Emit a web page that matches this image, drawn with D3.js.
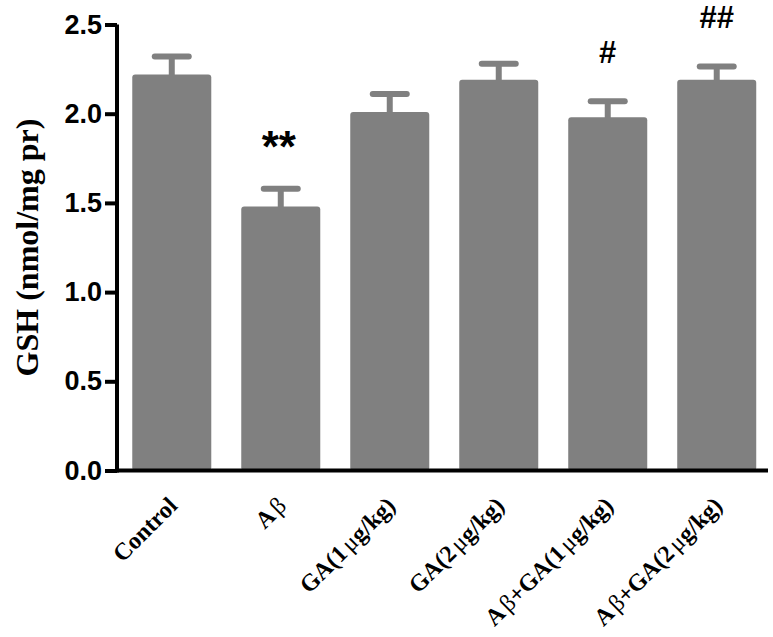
<!DOCTYPE html>
<html><head><meta charset="utf-8">
<script src="https://cdn.jsdelivr.net/npm/d3@7"></script>
<style>body{margin:0;background:#fff}</style>
</head><body>
<svg id="chart" width="773" height="637"></svg>
<script>
const categories = ["Control", "Aβ", "GA(1μg/kg)", "GA(2μg/kg)", "Aβ+GA(1μg/kg)", "Aβ+GA(2μg/kg)"];
const means = [2.22, 1.48, 2.01, 2.19, 1.98, 2.19];
const sems = [0.10, 0.10, 0.10, 0.09, 0.09, 0.075];
const marks = ["", "**", "", "", "#", "##"];
const yTicks = [0.0, 0.5, 1.0, 1.5, 2.0, 2.5];

const svg = d3.select("#chart");
const grey = "#808080";
const y = d3.scaleLinear().domain([0, 2.5]).range([470.5, 24.5]);
const x = d3.scaleBand().domain(categories).range([117, 771.5]).paddingInner(0.275).paddingOuter(0.14);

// bars
svg.append("g").selectAll("rect").data(categories).join("rect")
  .attr("x", d => x(d)).attr("width", x.bandwidth())
  .attr("y", (d, i) => y(means[i])).attr("height", (d, i) => y(0) - y(means[i]))
  .attr("rx", 3).attr("fill", grey);

// error bars
const eb = svg.append("g");
categories.forEach((c, i) => {
  const cx = x(c) + x.bandwidth() / 2;
  eb.append("line").attr("x1", cx).attr("x2", cx).attr("y1", y(means[i]) + 2).attr("y2", y(means[i] + sems[i]))
    .attr("stroke", grey).attr("stroke-width", 6);
  eb.append("line").attr("x1", cx - 17).attr("x2", cx + 17).attr("y1", y(means[i] + sems[i])).attr("y2", y(means[i] + sems[i]))
    .attr("stroke", grey).attr("stroke-width", 6).attr("stroke-linecap", "round");
});

// significance marks
svg.append("g").selectAll("text").data(categories).join("text")
  .attr("x", (d, i) => x(d) + x.bandwidth() / 2 - (marks[i] === "**" ? 2 : 0))
  .attr("y", (d, i) => marks[i] === "**" ? y(means[i] + sems[i]) - 27 : y(means[i] + sems[i]) - 38)
  .attr("text-anchor", "middle")
  .attr("font-family", "Liberation Sans, Arial, sans-serif").attr("font-weight", "bold")
  .attr("font-size", (d, i) => marks[i] === "**" ? 44 : 31)
  .text((d, i) => marks[i]);

// y axis
const yAxis = d3.axisLeft(y).tickValues(yTicks).tickFormat(d3.format(".1f")).tickSize(12).tickPadding(3);
const ga = svg.append("g").attr("transform", "translate(117,0)").call(yAxis);
ga.select(".domain").attr("stroke", "#000").attr("stroke-width", 4).attr("d", `M0,${y(2.5)}V${y(0) + 2}`);
ga.selectAll(".tick line").attr("stroke", "#000").attr("stroke-width", 4);
ga.selectAll(".tick text").attr("font-family", "Liberation Sans, Arial, sans-serif").attr("font-weight", "bold")
  .attr("font-size", 27).attr("fill", "#000");

// x axis
const xAxis = d3.axisBottom(x).tickSize(0).tickFormat("");
const gx = svg.append("g").attr("transform", `translate(0,${y(0)})`).call(xAxis);
gx.select(".domain").attr("stroke", "#000").attr("stroke-width", 4).attr("d", "M115,0H768");

// x labels
const lab = svg.append("g");
categories.forEach(c => {
  const cx = x(c) + x.bandwidth() / 2 + 7;
  const t = lab.append("text").attr("transform", `translate(${cx},507) rotate(-45)`)
    .attr("text-anchor", "end")
    .attr("font-family", "Liberation Serif, Times New Roman, serif").attr("font-weight", "bold")
    .attr("font-size", 24);
  const parts = c.split(/([βμ])/).filter(s => s.length);
  parts.forEach(p => {
    if (p === "β" || p === "μ") {
      t.append("tspan").attr("dx", 3).attr("font-weight", "normal").text(p);
    } else {
      t.append("tspan").text(p);
    }
  });
});

// y label
svg.append("text").attr("transform", `translate(38,${(y(0) + y(2.5)) / 2}) rotate(-90)`)
  .attr("text-anchor", "middle")
  .attr("font-family", "Liberation Serif, Times New Roman, serif").attr("font-weight", "bold")
  .attr("font-size", 32).text("GSH (nmol/mg pr)");
</script>
</body></html>
